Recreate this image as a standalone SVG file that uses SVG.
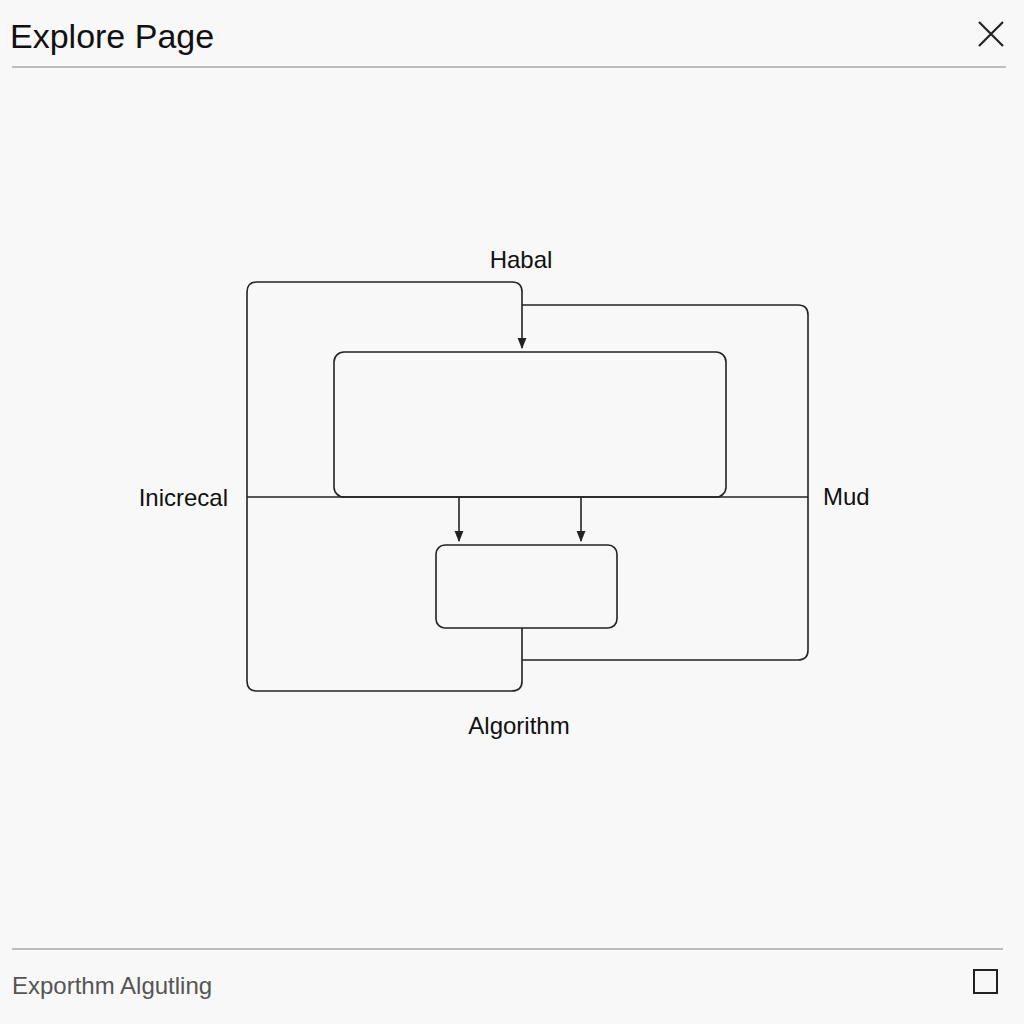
<svg xmlns="http://www.w3.org/2000/svg" width="1024" height="1024" viewBox="0 0 1024 1024">
<style>
text{font-family:"Liberation Sans",Arial,sans-serif;fill:#111}
.l{fill:none;stroke:#222;stroke-width:1.6}
.lbl{font-size:24px}
</style>
<defs><marker id="a" viewBox="0 0 10 10" refX="9" refY="5" markerWidth="7" markerHeight="7" orient="auto"><path d="M0,1 L10,5 L0,9 z" fill="#222"/></marker></defs>
<rect width="1024" height="1024" fill="#f8f8f8"/>
<g id="header"><text x="10" y="48" font-size="34">Explore Page</text>
<path d="M979,22 L1003,46 M1003,22 L979,46" stroke="#222" stroke-width="2.2"/>
<line x1="12" y1="67" x2="1006" y2="67" stroke="#aaa" stroke-width="1.5"/></g>
<g id="connectors">
<path class="l" d="M522,628 V681 Q522,691 512,691 H257 Q247,691 247,681 V292 Q247,282 257,282 H512 Q522,282 522,292 V348" marker-end="url(#a)"/>
<path class="l" d="M522,305 H798 Q808,305 808,315 V650 Q808,660 798,660 H522"/>
<line class="l" x1="247" y1="497" x2="808" y2="497"/>
<line class="l" x1="459" y1="497" x2="459" y2="541" marker-end="url(#a)"/>
<line class="l" x1="581" y1="497" x2="581" y2="541" marker-end="url(#a)"/>
</g>
<g id="main"><rect class="l" x="334" y="352" width="392" height="145" rx="10" fill="#f8f8f8"/></g>
<g id="small"><rect class="l" x="436" y="545" width="181" height="83" rx="9"/></g>
<g id="labels">
<text class="lbl" x="521" y="268" text-anchor="middle">Habal</text>
<text class="lbl" x="228" y="506" text-anchor="end">Inicrecal</text>
<text class="lbl" x="823" y="505">Mud</text>
<text class="lbl" x="519" y="734" text-anchor="middle">Algorithm</text>
</g>
<g id="footer"><line x1="12" y1="949" x2="1003" y2="949" stroke="#aaa" stroke-width="1.5"/>
<text x="12" y="994" font-size="24" style="fill:#555">Exporthm Algutling</text>
<rect x="974" y="970" width="23" height="23" fill="none" stroke="#222" stroke-width="2"/></g>
</svg>
